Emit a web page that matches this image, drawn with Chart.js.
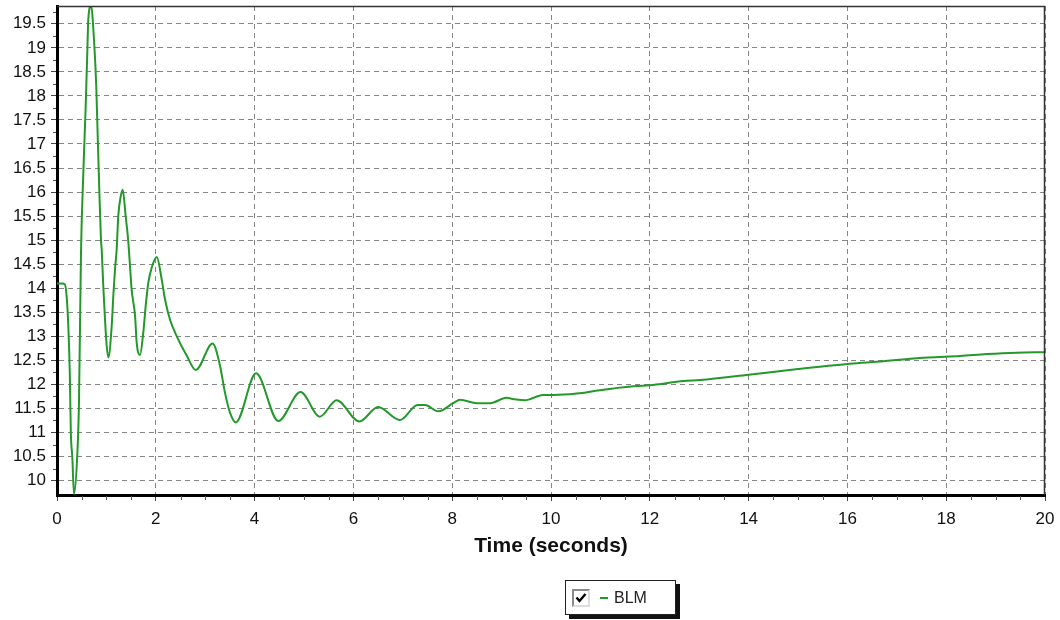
<!DOCTYPE html>
<html>
<head>
<meta charset="utf-8">
<script src="https://cdn.jsdelivr.net/npm/chart.js@4.4.1/dist/chart.umd.min.js"></script>
<style>
  html, body { margin: 0; padding: 0; background: #fff; }
  #wrap { position: relative; width: 1060px; height: 620px; }
  #c { position: absolute; left: 0; top: 0; }
  #legend {
    position: absolute; left: 565px; top: 580px; width: 109px; height: 33px;
    border: 1px solid #222; background: #fff; box-shadow: 4px 4px 0 #111;
    font-family: "Liberation Sans", Arial, sans-serif; font-size: 16px; color: #222;
    display: flex; align-items: center;
  }
  #legend .cb {
    width: 14px; height: 14px; margin-left: 6px; border: 2px solid #8a8a8a;
    border-right-color: #ddd; border-bottom-color: #ddd; background: #fff; position: relative;
  }
  #legend .dash { display: inline-block; width: 8px; height: 2px; background: #22992a; margin: 0 6px 0 10px; }
</style>
</head>
<body>
<div id="wrap">
  <canvas id="c" width="1060" height="620"></canvas>
  <div id="legend">
    <span class="cb"><svg width="14" height="14" viewBox="0 0 14 14" style="position:absolute;left:0;top:0"><polyline points="2.5,6.5 5.5,10 11.5,3" fill="none" stroke="#000" stroke-width="2.4"/></svg></span>
    <span class="dash"></span><span>BLM</span>
  </div>
</div>
<script>
const seriesName = "BLM";
const xTitle = "Time (seconds)";
const times = [0, 0.1, 0.16, 0.2, 0.23, 0.26, 0.28, 0.31, 0.344, 0.41, 0.445, 0.486, 0.533, 0.58, 0.613, 0.634, 0.69,
  0.755, 0.795, 0.824, 0.856, 0.89, 0.905, 0.937, 0.972, 1.006, 1.04, 1.107, 1.14, 1.174, 1.208, 1.24, 1.29, 1.33,
  1.39, 1.44, 1.478, 1.51, 1.58, 1.613, 1.68, 1.747, 1.795, 1.848, 1.915, 2.02, 2.12, 2.186, 2.287, 2.42, 2.63, 2.81,
  3.15, 3.3, 3.4, 3.5, 3.62, 4.03, 4.48, 4.93, 5.32, 5.66, 6.12, 6.5, 6.94, 7.3, 7.45, 7.72, 8.02, 8.16, 8.5, 8.77,
  9.1, 9.27, 9.47, 9.84, 10.05, 10.52, 10.99, 11.67, 12.07, 12.68, 13.02, 14.0, 15.0, 16.05, 16.73, 17.13, 17.64,
  18.28, 18.82, 19.43, 20.0];
const values = [14.1, 14.1, 14.08, 13.77, 13.19, 12.18, 11.0, 10.49, 9.72, 10.52, 11.63, 14.76, 16.4, 17.77, 18.89, 19.6, 19.87,
  19.06, 18.19, 17.16, 16.05, 15.01, 14.8, 14.04, 13.35, 12.8, 12.56, 13.21, 13.84, 14.39, 14.81, 15.5, 15.91, 16.05,
  15.5, 15.01, 14.46, 13.98, 13.43, 12.87, 12.61, 13.08, 13.63, 14.11, 14.42, 14.65, 14.18, 13.77, 13.35, 13.01, 12.59, 12.3,
  12.85, 12.39, 11.83, 11.42, 11.21, 12.23, 11.24, 11.84, 11.33, 11.67, 11.23, 11.53, 11.26, 11.57, 11.57, 11.44, 11.61, 11.68, 11.61, 11.61,
  11.72, 11.69, 11.67, 11.78, 11.78, 11.81, 11.88, 11.96, 11.99, 12.07, 12.09, 12.2, 12.32, 12.43, 12.48, 12.52, 12.56,
  12.59, 12.63, 12.66, 12.67];
const xTickValues = [0, 2, 4, 6, 8, 10, 12, 14, 16, 18, 20];
const yTickValues = [10, 10.5, 11, 11.5, 12, 12.5, 13, 13.5, 14, 14.5, 15, 15.5, 16, 16.5, 17, 17.5, 18, 18.5, 19, 19.5];
const xMin = 0, xMax = 20, xMinorStep = 0.5;
const yMin = 9.7, yMax = 19.87, yMinorStep = 0.25;

const points = times.map((t, i) => ({ x: t, y: values[i] }));
const FONT = '"Liberation Sans", Arial, sans-serif';
const near = (v, arr) => arr.some(a => Math.abs(a - v) < 1e-6);

const frame = {
  id: 'frame',
  afterDraw(chart) {
    const { ctx, chartArea: a, scales } = chart;
    ctx.save();
    ctx.strokeStyle = '#333';
    ctx.lineWidth = 1.5;
    ctx.setLineDash([]);
    ctx.beginPath();
    ctx.moveTo(a.left, a.top + 0.5); ctx.lineTo(a.right - 0.5, a.top + 0.5); ctx.lineTo(a.right - 0.5, a.bottom);
    ctx.stroke();
    ctx.strokeStyle = '#555';
    ctx.lineWidth = 1;
    ctx.beginPath();
    for (let v = xMin; v <= xMax + 1e-9; v += xMinorStep) {
      if (near(v, xTickValues)) continue;
      const px = Math.round(scales.x.getPixelForValue(v)) + 0.5;
      ctx.moveTo(px, a.bottom + 1); ctx.lineTo(px, a.bottom + 5);
    }
    for (let v = 10; v <= yMax + 1e-9; v += yMinorStep) {
      if (near(v, yTickValues)) continue;
      const py = Math.round(scales.y.getPixelForValue(v)) + 0.5;
      ctx.moveTo(a.left - 1, py); ctx.lineTo(a.left - 4, py);
    }
    ctx.stroke();
    ctx.restore();
  }
};

new Chart(document.getElementById('c'), {
  type: 'line',
  data: {
    datasets: [{
      label: seriesName,
      data: points,
      borderColor: '#22992a',
      borderWidth: 2,
      pointRadius: 0,
      fill: false,
      cubicInterpolationMode: 'monotone'
    }]
  },
  options: {
    responsive: false,
    devicePixelRatio: 1,
    animation: false,
    layout: { padding: { top: 6, right: 15, bottom: 61, left: 0 } },
    plugins: { legend: { display: false }, tooltip: { enabled: false } },
    scales: {
      x: {
        type: 'linear', min: xMin, max: xMax,
        afterBuildTicks(s) { s.ticks = xTickValues.map(v => ({ value: v })); },
        ticks: { color: '#111', font: { family: FONT, size: 17 }, padding: 8, maxRotation: 0, callback: v => String(v) },
        grid: { color: '#858585', lineWidth: 1, tickLength: 6, tickColor: '#444', tickBorderDash: [] },
        border: { display: true, color: '#000', width: 3, dash: [5, 4] },
        title: { display: true, text: xTitle, color: '#111', font: { family: FONT, size: 21, weight: 'bold' }, padding: { top: 0, bottom: 0 } },
        afterFit(s) { s.height = 64; s.paddingLeft = 0; s.paddingRight = 0; }
      },
      y: {
        type: 'linear', min: yMin, max: yMax,
        afterBuildTicks(s) { s.ticks = yTickValues.map(v => ({ value: v })); },
        ticks: { color: '#111', font: { family: FONT, size: 17 }, padding: 5, callback: v => String(v) },
        grid: { color: '#858585', lineWidth: 1, tickLength: 6, tickColor: '#444', tickBorderDash: [] },
        border: { display: true, color: '#000', width: 3, dash: [5, 4] },
        afterFit(s) { s.width = 57; s.paddingTop = 0; s.paddingBottom = 0; }
      }
    }
  },
  plugins: [frame]
});
</script>
</body>
</html>
